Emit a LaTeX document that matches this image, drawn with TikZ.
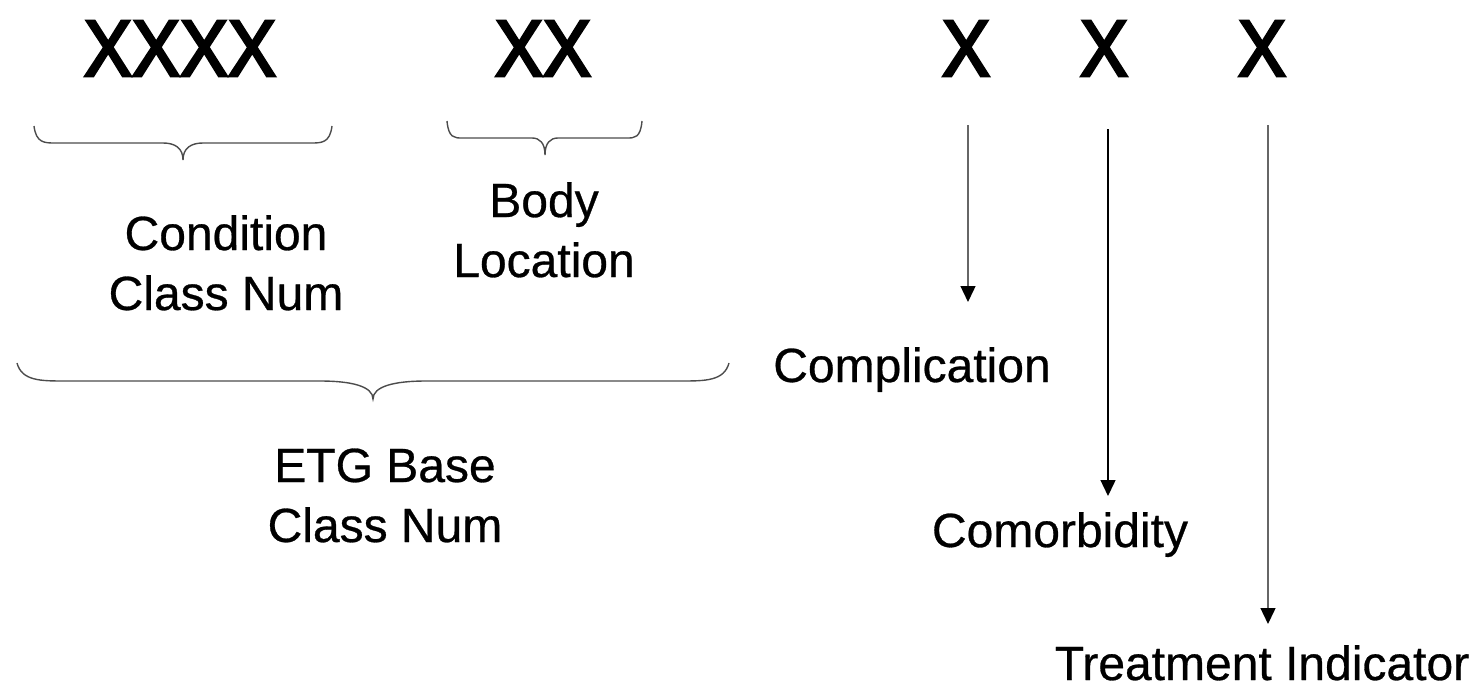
\documentclass[tikz,border=0pt]{standalone}
\usepackage{fontspec}
\setmainfont{Liberation Sans}[FakeBold=0.6]
\newfontfamily\xfont[FakeStretch=0.9,FakeBold=3.5]{Liberation Sans}
\usetikzlibrary{arrows.meta}
\newcommand{\curlybrace}[8]{% xL, xR, yEnd, yLine, xc, yTip, r (end bend), r2 (tip bend)
  \draw[bracestyle] (#1,#3) .. controls ({#1+0.1*#7},{#4}) and ({#1+0.5*#7},#4) .. ({#1+#7},#4)
    -- ({#5-#8},#4) .. controls ({#5-0.4*#8},#4) and (#5,{#4+0.3*(#6-#4)}) .. (#5,#6)
    .. controls (#5,{#4+0.3*(#6-#4)}) and ({#5+0.4*#8},#4) .. ({#5+#8},#4)
    -- ({#2-#7},#4) .. controls ({#2-0.5*#7},#4) and ({#2-0.1*#7},#4) .. (#2,#3);}
\begin{document}
\begin{tikzpicture}[x=0.5pt,y=-0.5pt,
  bigx/.style={font=\xfont\fontsize{40}{48}\selectfont, inner sep=0pt, anchor=base},
  lbl/.style={font=\fontsize{24}{30}\selectfont, inner sep=0pt, anchor=base, align=center},
  bracestyle/.style={draw=black!70, line width=0.7pt},
  arr/.style={line width=0.7pt, -{Triangle[length=8pt,width=7.5pt,color=black]}}]
\useasboundingbox (0,0) rectangle (1476,690);
% code letters
\node[bigx] (x4) at (180,76) {XXXX};
\node[bigx] (x2) at (543,76) {XX};
\node[bigx] (xa) at (966,76) {X};
\node[bigx] (xb) at (1104,76) {X};
\node[bigx] (xc) at (1262,76) {X};
% braces
\curlybrace{34}{332}{126}{143}{183}{160}{21}{20}
\curlybrace{447}{642}{121}{138}{545}{155}{15}{13}
\curlybrace{17}{729}{363}{381}{373}{399}{48}{53}
% labels (base anchor = baseline of the last line)
\node[lbl] (cond) at (226,310) {Condition\\Class Num};
\node[lbl] (body) at (544,277) {Body\\Location};
\node[lbl] (etg) at (385,542) {ETG Base\\Class Num};
\node[lbl] (compl) at (912,382) {Complication};
\node[lbl] (comorb) at (1060,547) {Comorbidity};
\node[lbl] (treat) at (1262,680) {Treatment Indicator};
% arrows
\coordinate (a1s) at (968,125);
\coordinate (a1e) at (968,302);
\coordinate (a2s) at (1108,129);
\coordinate (a2e) at (1108,496);
\coordinate (a3s) at (1268,125);
\coordinate (a3e) at (1268,624);
\draw[arr, draw=black!60] (a1s) -- (a1e);
\draw[arr, draw=black] (a2s) -- (a2e);
\draw[arr, draw=black!60] (a3s) -- (a3e);
\end{tikzpicture}
\end{document}
